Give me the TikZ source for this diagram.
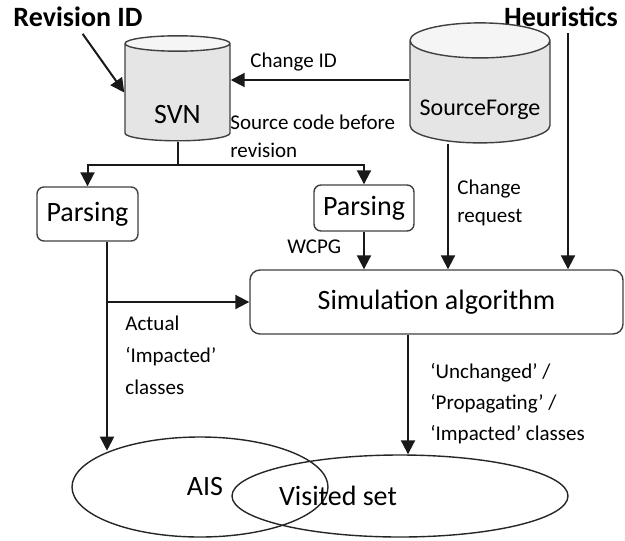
\documentclass[tikz,border=0pt]{standalone}
\usepackage{fontspec}
\setmainfont{Carlito}
\usetikzlibrary{arrows.meta}
\usetikzlibrary{shapes}

\begin{document}
\begin{tikzpicture}[x = 0.5pt, y = -0.5pt, font = \fontsize{10.5}{14}\selectfont, >={Triangle[length = 7pt, width = 7pt]}]
	\tikzstyle{titleStyle} = [font = \fontsize{14}{16}\selectfont\bfseries, inner sep = 0pt]
	\tikzstyle{dbStyle} = [shape = cylinder, shape border rotate = 90, aspect = 0.33, draw = black!75, line width = 0.7pt, cylinder uses custom fill, cylinder body fill = black!10, cylinder end fill = black!4, inner sep = 0pt, font = \fontsize{14}{16}\selectfont]
	\tikzstyle{dbLabel} = [font = \fontsize{14}{16}\selectfont, inner sep = 0pt]
	\tikzstyle{boxStyle} = [shape = rectangle, rounded corners = 3.5pt, draw = black!75, line width = 0.7pt, inner sep = 0pt, font = \fontsize{14}{16}\selectfont]
	\tikzstyle{setStyle} = [shape = ellipse, draw = black!85, line width = 0.7pt, inner sep = 0pt]
	\tikzstyle{setLabel} = [font = \fontsize{14}{16}\selectfont, inner sep = 0pt]
	\tikzstyle{noteStyle} = [anchor = west, align = left, inner sep = 0pt]
	\tikzstyle{lineStyle} = [line width = 1pt, black!90]
	\useasboundingbox (0, 0) rectangle (625, 540);
	% sources
	\node[titleStyle] (revId) at (78, 17) {Revision ID};
	\node[titleStyle] (heur) at (561, 17) {Heuristics};
	\node[dbStyle, minimum width = 52.5pt, minimum height = 52.5pt, label = {[dbLabel, yshift = -11pt]center:SVN}] (svn) at (177.5, 92.5) {\phantom{SVN}};
	\node[dbStyle, aspect = 0.29, minimum width = 70pt, minimum height = 60pt, font = \fontsize{12}{14}\selectfont, label = {[dbLabel, font = \fontsize{12}{14}\selectfont, yshift = -9pt]center:SourceForge}] (sf) at (480, 92) {\phantom{SourceForge}};
	% processing
	\node[boxStyle, minimum width = 50.5pt, minimum height = 27pt] (parse1) at (87.5, 214) {Parsing};
	\node[boxStyle, minimum width = 50pt, minimum height = 23pt] (parse2) at (364, 208) {Parsing};
	\node[boxStyle, rounded corners = 5pt, minimum width = 186.5pt, minimum height = 32pt] (sim) at (436.5, 302) {Simulation algorithm};
	% sets
	\node[setStyle, minimum width = 128pt, minimum height = 50pt, label = {[setLabel, xshift = 2.5pt]center:AIS}] (ais) at (200, 487) {};
	\node[setStyle, minimum width = 168pt, minimum height = 41pt, label = {[setLabel, xshift = -31pt]center:Visited set}] (visited) at (400, 496) {};
	% labels
	\node[noteStyle] (noteChange) at (250, 62) {Change ID};
	\node[noteStyle] (noteSource) at (230, 136.5) {Source code before\\revision};
	\node[noteStyle] (noteRequest) at (457, 203) {Change\\request};
	\node[noteStyle] (noteWcpg) at (287, 247) {WCPG};
	\node[noteStyle, font = \fontsize{10.5}{16}\selectfont] (noteActual) at (125, 355) {Actual\\‘Impacted’\\classes};
	\node[noteStyle, font = \fontsize{10.5}{15.5}\selectfont] (noteState) at (430, 404) {‘Unchanged’ /\\‘Propagating’ /\\‘Impacted’ classes};
	% connectors
	\coordinate (split) at (svn.south |- 0, 165);
	\draw[lineStyle, ->, shorten <= 4pt] (revId.south) -- (svn.west);
	\draw[lineStyle, ->] (sf.west |- 0, 80) -- (svn.east |- 0, 80);
	\draw[lineStyle] (svn.south) -- (split);
	\draw[lineStyle, ->] (split) -| (parse1.north);
	\draw[lineStyle, ->] (split) -| (parse2.north);
	\draw[lineStyle, ->] (parse1.south -| 107, 0) -- (ais.158 -| 107, 0);
	\draw[lineStyle, ->] (sim.west -| 107, 0) -- (sim.west);
	\draw[lineStyle, ->] (parse2.south) -- (parse2.south |- sim.north);
	\draw[lineStyle, ->] (sf.south -| 448, 0) -- (sim.north -| 448, 0);
	\draw[lineStyle, ->, shorten <= 3pt] (heur.south -| 568, 0) -- (sim.north -| 568, 0);
	\draw[lineStyle, ->] (sim.south -| 408, 0) -- (visited.north -| 408, 0);
\end{tikzpicture}
\end{document}
